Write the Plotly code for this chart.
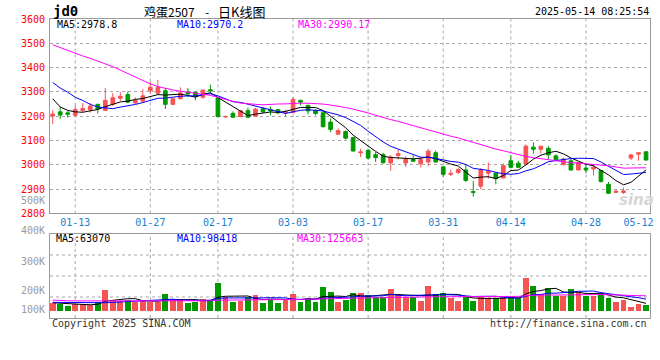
import plotly.graph_objects as go

# ---------------- data ----------------
dates = ["01-08", "01-09", "01-10", "01-13", "01-14", "01-15", "01-16", "01-17", "01-20", "01-21",
         "01-22", "01-23", "01-24", "01-27", "02-05", "02-06", "02-07", "02-10", "02-11", "02-12",
         "02-13", "02-14", "02-17", "02-18", "02-19", "02-20", "02-21", "02-24", "02-25", "02-26",
         "02-27", "02-28", "03-03", "03-04", "03-05", "03-06", "03-07", "03-10", "03-11", "03-12",
         "03-13", "03-14", "03-17", "03-18", "03-19", "03-20", "03-21", "03-24", "03-25", "03-26",
         "03-27", "03-28", "03-31", "04-01", "04-02", "04-03", "04-07", "04-08", "04-09", "04-10",
         "04-11", "04-14", "04-15", "04-16", "04-17", "04-18", "04-21", "04-22", "04-23", "04-24",
         "04-25", "04-28", "04-29", "04-30", "05-06", "05-07", "05-08", "05-09", "05-12", "05-13"]

opens = [3201, 3218, 3214, 3204, 3224, 3227, 3249, 3224, 3249, 3274,
         3289, 3255, 3262, 3305, 3295, 3305, 3249, 3272, 3299, 3299,
         3278, 3309, 3275, 3197, 3212, 3199, 3223, 3200, 3231, 3228,
         3227, 3214, 3215, 3265, 3245, 3224, 3214, 3176, 3126, 3137,
         3112, 3050, 3060, 3042, 3042, 3008, 3039, 3008, 3022, 3005,
         3012, 3050, 2992, 2961, 2969, 2979, 2890, 2912, 2966, 2966,
         2946, 3017, 3007, 3003, 3073, 3064, 3068, 3037, 3001, 3017,
         2979, 2987, 2983, 2977, 2920, 2887, 2886, 3028, 3044, 3054]
highs = [3224, 3238, 3222, 3245, 3254, 3254, 3251, 3316, 3295, 3299,
         3301, 3278, 3312, 3342, 3349, 3316, 3272, 3319, 3316, 3299,
         3308, 3330, 3278, 3203, 3220, 3225, 3235, 3235, 3238, 3240,
         3230, 3227, 3278, 3269, 3245, 3228, 3222, 3191, 3150, 3141,
         3112, 3066, 3066, 3053, 3049, 3040, 3062, 3035, 3039, 3032,
         3066, 3059, 2992, 2981, 2988, 3003, 2934, 2987, 3010, 2970,
         3006, 3041, 3017, 3084, 3093, 3077, 3077, 3044, 3030, 3024,
         3012, 3003, 3003, 2979, 2930, 2896, 2907, 3046, 3050, 3054]
lows = [3168, 3189, 3195, 3200, 3216, 3215, 3211, 3222, 3243, 3262,
        3254, 3251, 3254, 3292, 3288, 3230, 3245, 3269, 3278, 3266,
        3272, 3295, 3195, 3192, 3196, 3196, 3192, 3197, 3214, 3204,
        3210, 3197, 3211, 3245, 3208, 3204, 3154, 3134, 3126, 3105,
        3055, 3032, 3022, 3012, 3005, 2976, 3022, 2992, 3012, 2989,
        2996, 3008, 2951, 2954, 2962, 2930, 2869, 2899, 2943, 2920,
        2946, 2987, 2987, 3003, 3046, 3046, 3024, 3015, 2997, 2977,
        2977, 2966, 2956, 2927, 2880, 2883, 2880, 3020, 3017, 3017]
closes = [3209, 3205, 3208, 3228, 3232, 3242, 3230, 3265, 3276, 3282,
          3258, 3265, 3284, 3319, 3319, 3249, 3272, 3296, 3292, 3282,
          3308, 3305, 3199, 3199, 3196, 3223, 3196, 3229, 3218, 3222,
          3214, 3218, 3269, 3258, 3222, 3211, 3157, 3146, 3141, 3110,
          3057, 3053, 3028, 3030, 3009, 3032, 3046, 3022, 3015, 3022,
          3057, 3012, 2961, 2965, 2981, 2936, 2887, 2979, 2974, 2943,
          2997, 2990, 2990, 3077, 3064, 3077, 3041, 3021, 3024, 2979,
          3010, 2979, 2990, 2932, 2883, 2892, 2893, 3041, 3050, 3020]
volumes = [63000, 54000, 43000, 54000, 54000, 49000, 74000, 177000, 91000, 83000,
           91000, 74000, 91000, 74000, 74000, 143000, 91000, 97000, 69000, 77000,
           97000, 91000, 240000, 114000, 77000, 86000, 114000, 134000, 69000, 97000,
           69000, 97000, 143000, 77000, 109000, 77000, 200000, 163000, 77000, 91000,
           154000, 154000, 134000, 114000, 114000, 186000, 143000, 114000, 114000, 86000,
           210000, 145000, 150000, 106000, 86000, 120000, 86000, 128000, 106000, 106000,
           106000, 120000, 106000, 280000, 210000, 145000, 195000, 128000, 128000, 185000,
           163000, 126000, 126000, 145000, 110000, 76000, 96000, 36000, 57000, 50000]

# moving-average values at the start of the window
ma5_head = [3272, 3238, 3224, 3218]
ma10_head = [3339, 3316, 3299, 3278, 3265, 3249, 3238, 3234, 3231]
ma30_head = [3494, 3482, 3470, 3459, 3448, 3438, 3427, 3415, 3404, 3390,
             3376, 3362, 3346, 3333, 3322, 3314, 3308, 3303, 3299, 3295,
             3290, 3286, 3278, 3268, 3261, 3254, 3250, 3249, 3247]
vma5_head = [68000, 63000, 58000, 57000]
vma10_head = [72000, 71000, 70000, 68000, 66000, 64000, 63000, 68000, 71000]
vma30_head = [91000, 86000, 85000, 84000, 84000, 84000, 83000, 83000, 84000, 84000,
              84000, 84000, 83000, 84000, 84000, 84000, 85000, 85000, 84000, 84000,
              85000, 85000, 90000, 90000, 90000, 90000, 91000, 91000, 91000]

tick_dates = ["01-13", "01-27", "02-17", "03-03", "03-17", "03-31", "04-14", "04-28", "05-12"]
grid_dates = ["01-13", "01-27", "02-17", "03-03", "03-17", "03-31", "04-14", "04-28"]

price_legend = ["MA5:2978.8", "MA10:2970.2", "MA30:2990.17"]
vol_legend = ["MA5:63070", "MA10:98418", "MA30:125663"]
vol_axis_labels = ["500K", "400K", "300K", "200K", "100K"]
title_code = "jd0"
title_name = "鸡蛋2507"
title_kind = "日K线图"
stamp = "2025-05-14 08:25:54"


def moving(vals, n, head):
    out = list(head)
    for i in range(n - 1, len(vals)):
        out.append(sum(vals[i - n + 1:i + 1]) / n)
    return out


idx = list(range(len(dates)))
RED = "#F65353"
GREEN = "#009A00"
MONO = "DejaVu Sans Mono"
GRID = "#A8A8A8"
BORDER = "#9A9A9A"

fig = go.Figure()
fig.add_trace(go.Candlestick(
    x=idx, open=opens, high=highs, low=lows, close=closes,
    increasing=dict(line=dict(color=RED, width=1), fillcolor=RED),
    decreasing=dict(line=dict(color=GREEN, width=1), fillcolor=GREEN),
    whiskerwidth=0, xaxis="x", yaxis="y", hoverinfo="skip"))

for vals, n, head, col in [(closes, 5, ma5_head, "#000000"),
                           (closes, 10, ma10_head, "#0000FF"),
                           (closes, 30, ma30_head, "#FF00FF")]:
    fig.add_trace(go.Scatter(x=idx, y=moving(vals, n, head), mode="lines",
                             line=dict(color=col, width=1), xaxis="x", yaxis="y",
                             hoverinfo="skip"))

bar_colors = [RED if c >= o else GREEN for o, c in zip(opens, closes)]
fig.add_trace(go.Bar(x=idx, y=volumes, marker=dict(color=bar_colors, line=dict(width=0)),
                     width=0.78, xaxis="x2", yaxis="y2", hoverinfo="skip"))

for vals, n, head, col in [(volumes, 5, vma5_head, "#000000"),
                           (volumes, 10, vma10_head, "#0000FF"),
                           (volumes, 30, vma30_head, "#FF00FF")]:
    fig.add_trace(go.Scatter(x=idx, y=moving(vals, n, head), mode="lines",
                             line=dict(color=col, width=1), xaxis="x2", yaxis="y2",
                             hoverinfo="skip"))

tick_idx = [dates.index(d) for d in tick_dates]
grid_idx = [dates.index(d) for d in grid_dates]

shapes = []
for gi in grid_idx:
    shapes.append(dict(type="line", xref="x", yref="y domain", x0=gi, x1=gi, y0=0, y1=1,
                       line=dict(color=GRID, width=1, dash="dot"), layer="below"))
    shapes.append(dict(type="line", xref="x2", yref="y2 domain", x0=gi, x1=gi, y0=0, y1=1,
                       line=dict(color=GRID, width=1, dash="dot"), layer="below"))
for f in [0.25, 0.5, 0.75]:
    shapes.append(dict(type="line", xref="x2 domain", yref="y2 domain", x0=0, x1=1, y0=f, y1=f,
                       line=dict(color=GRID, width=1, dash="dot"), layer="below"))

XR = [-0.36, 79.53]
fig.update_layout(
    width=660, height=360,
    margin=dict(l=50, r=10, t=19, b=42, autoexpand=False),
    paper_bgcolor="white", plot_bgcolor="white",
    showlegend=False, bargap=0,
    shapes=shapes,
    xaxis=dict(domain=[0, 1], range=XR, anchor="y", tickvals=tick_idx, ticktext=tick_dates,
               tickfont=dict(family=MONO, size=10, color="#1A80D0"), showgrid=False,
               showline=True, mirror=True, linecolor=BORDER, linewidth=1, zeroline=False,
               ticks="", rangeslider=dict(visible=False), fixedrange=True, automargin=False),
    yaxis=dict(domain=[0.3495, 1], range=[2800, 3600], tick0=2800, dtick=100, anchor="x",
               tickfont=dict(family=MONO, size=10, color="#FF0000"), showgrid=True,
               gridcolor=GRID, griddash="dot", gridwidth=1, showline=True, mirror=True,
               linecolor=BORDER, linewidth=1, zeroline=False, ticks="", ticklabelstandoff=2,
               automargin=False),
    xaxis2=dict(domain=[0, 1], range=XR, anchor="y2", showticklabels=False, showgrid=False,
                showline=True, mirror=True, linecolor=BORDER, linewidth=1, zeroline=False,
                ticks="", automargin=False),
    yaxis2=dict(domain=[0, 0.281], range=[-62600, 657800], anchor="x2", showticklabels=False,
                showgrid=False, showline=True, mirror=True, linecolor=BORDER, linewidth=1,
                zeroline=False, ticks="", automargin=False),
)

ann = []


def add_text(text, x, y, color, size=10, xanchor="left", family=MONO, bold=False):
    ann.append(dict(text=("<b>%s</b>" % text) if bold else text, x=x, y=y,
                    xref="paper", yref="paper", xanchor=xanchor, yanchor="middle",
                    showarrow=False, font=dict(family=family, size=size, color=color)))


# header
add_text(title_code, 0.0015, 1.0261, "#000000", size=14, bold=True)
add_text(title_name, 0.1527, 1.0261, "#000000", size=12, family="Noto Sans CJK SC")
add_text("-", 0.255, 1.0261, "#000000", size=12, family="Noto Sans CJK SC")
add_text(title_kind, 0.2760, 1.0261, "#000000", size=13, family="Noto Sans CJK SC")
add_text(stamp, 1.0017, 1.0244, "#000000", size=10, xanchor="right")

# legends
for txt, xf, col in zip(price_legend, [0.0083, 0.2090, 0.4100], ["#000000", "#0000FF", "#FF00FF"]):
    add_text(txt, xf, 0.980, col)
for txt, xf, col in zip(vol_legend, [0.0067, 0.2083, 0.4083], ["#000000", "#0000FF", "#FF00FF"]):
    add_text(txt, xf, 0.2665, col)

# volume axis labels (as drawn by the source chart)
for txt, yf in zip(vol_axis_labels, [0.3946, 0.2920, 0.1883, 0.0913, 0.0268]):
    ann.append(dict(text=txt, x=0, y=yf, xref="paper", yref="paper", xanchor="right",
                    yanchor="middle", xshift=-3, showarrow=False,
                    font=dict(family=MONO, size=10, color="#9A9A9A")))

# footer
add_text("Copyright 2025 SINA.COM", 0.0, -0.0177, "#333333")
add_text("http://finance.sina.com.cn", 0.9983, -0.0177, "#333333", xanchor="right")

# watermark
ann.append(dict(text="<b><i>sina</i></b>", x=0.977, y=0.395, xref="paper", yref="paper",
                xanchor="center", yanchor="middle", showarrow=False,
                font=dict(family="DejaVu Sans", size=15, color="#D6D6D6")))

fig.update_layout(annotations=ann)
fig.write_html("out.html", config={"displayModeBar": False},
               post_script="document.body.style.margin='0px';")
